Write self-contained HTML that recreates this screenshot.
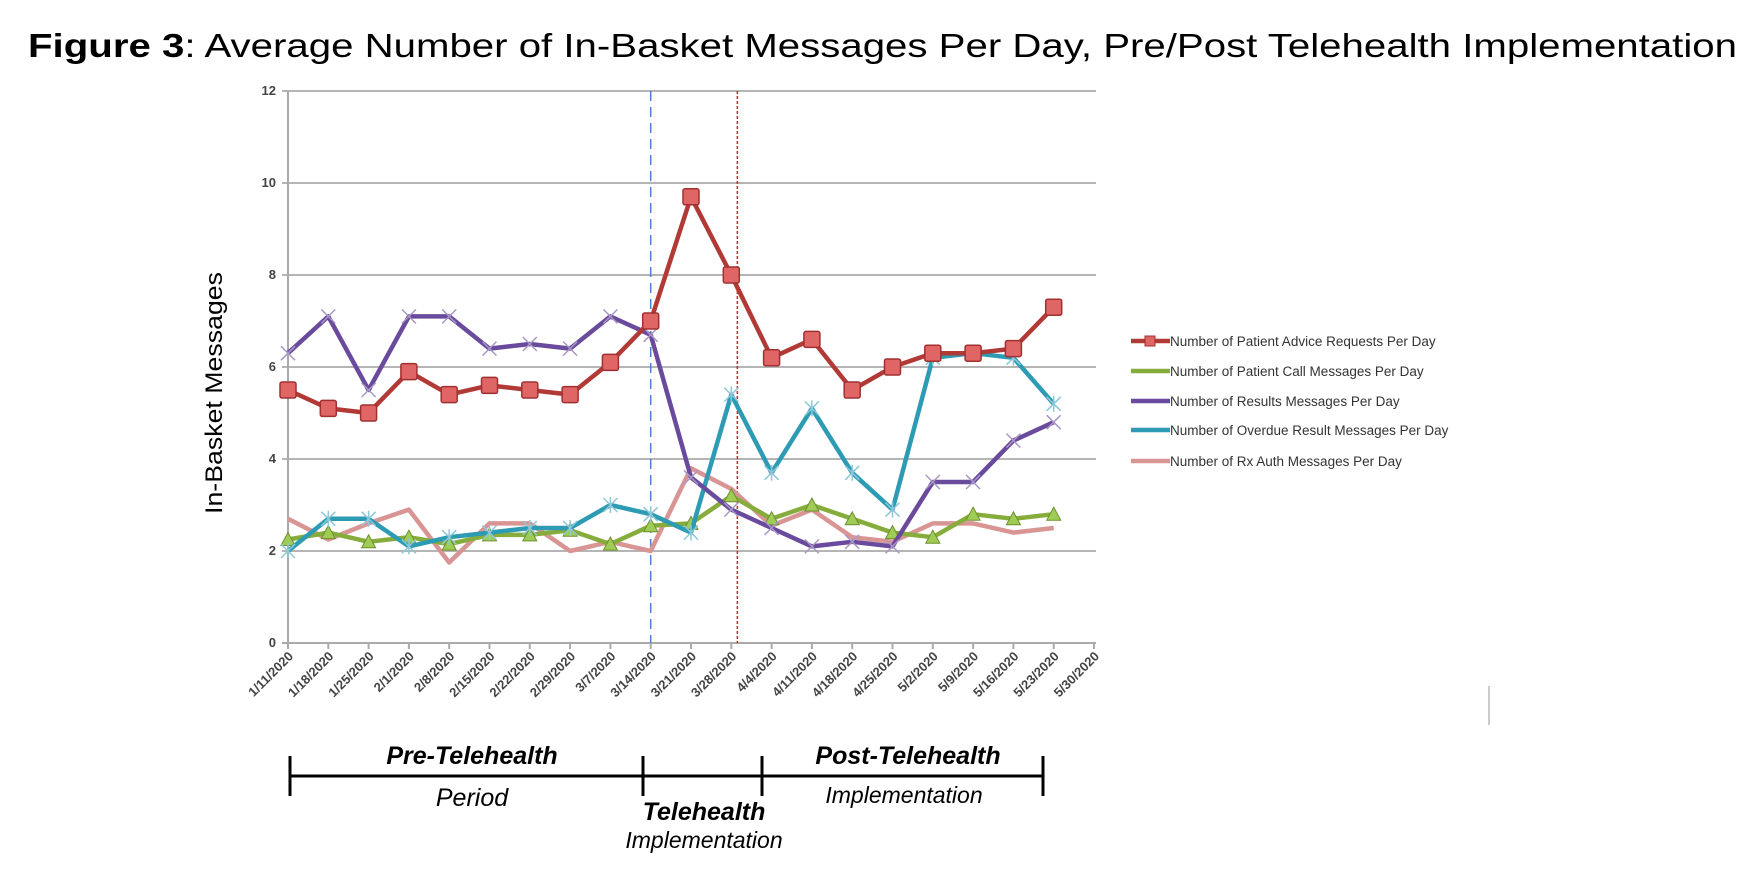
<!DOCTYPE html>
<html><head><meta charset="utf-8"><style>
html,body{margin:0;padding:0;background:#fff;}
svg{display:block;}
</style></head><body>
<svg id="chart" width="1763" height="874" xmlns="http://www.w3.org/2000/svg" font-family="Liberation Sans, sans-serif">
<text x="28" y="57" font-size="33" textLength="1709" lengthAdjust="spacingAndGlyphs"><tspan font-weight="bold">Figure 3</tspan>: Average Number of In-Basket Messages Per Day, Pre/Post Telehealth Implementation</text>
<text transform="translate(222,393) rotate(-90)" text-anchor="middle" font-size="24" textLength="242" lengthAdjust="spacingAndGlyphs">In-Basket Messages</text>
<g id="grid"></g>
<g id="series"></g>
<g id="legend"></g>
<g stroke="#000" stroke-width="3">
<line x1="290" y1="776" x2="1043" y2="776"/>
<line x1="290" y1="756" x2="290" y2="796"/>
<line x1="643" y1="756" x2="643" y2="796"/>
<line x1="762" y1="756" x2="762" y2="796"/>
<line x1="1043" y1="756" x2="1043" y2="796"/>
</g>
<g font-style="italic" font-size="25" text-anchor="middle">
<text x="472" y="764" font-weight="bold">Pre-Telehealth</text>
<text x="472" y="806">Period</text>
<text x="704" y="820" font-weight="bold">Telehealth</text>
<text x="704" y="848" font-size="23">Implementation</text>
<text x="908" y="764" font-weight="bold">Post-Telehealth</text>
<text x="904" y="803" font-size="23">Implementation</text>
</g>
<line x1="1489" y1="686" x2="1489" y2="725" stroke="#ccc" stroke-width="2"/>
</svg>
<script>
const categories = ["1/11/2020","1/18/2020","1/25/2020","2/1/2020","2/8/2020","2/15/2020","2/22/2020","2/29/2020","3/7/2020","3/14/2020","3/21/2020","3/28/2020","4/4/2020","4/11/2020","4/18/2020","4/25/2020","5/2/2020","5/9/2020","5/16/2020","5/23/2020","5/30/2020"];
const yTicks = [0,2,4,6,8,10,12];
const adviceValues = [5.5,5.1,5.0,5.9,5.4,5.6,5.5,5.4,6.1,7.0,9.7,8.0,6.2,6.6,5.5,6.0,6.3,6.3,6.4,7.3];
const callValues = [2.25,2.4,2.2,2.3,2.15,2.35,2.35,2.45,2.15,2.55,2.6,3.2,2.7,3.0,2.7,2.4,2.3,2.8,2.7,2.8];
const resultsValues = [6.3,7.1,5.5,7.1,7.1,6.4,6.5,6.4,7.1,6.7,3.6,2.9,2.5,2.1,2.2,2.1,3.5,3.5,4.4,4.8];
const overdueValues = [2.0,2.7,2.7,2.1,2.3,2.4,2.5,2.5,3.0,2.8,2.4,5.4,3.7,5.1,3.7,2.9,6.2,6.3,6.2,5.2];
const rxValues = [2.7,2.25,2.6,2.9,1.75,2.6,2.6,2.0,2.2,2.0,3.8,3.35,2.55,2.9,2.3,2.2,2.6,2.6,2.4,2.5];
const seriesNames = ["Number of Patient Advice Requests Per Day","Number of Patient Call Messages Per Day","Number of Results Messages Per Day","Number of Overdue Result Messages Per Day","Number of Rx Auth Messages Per Day"];
const telehealthStartIndex = 9;
const implementationEndIndex = 11.15;

const NS="http://www.w3.org/2000/svg";
const X0=288, STEP=40.3, Y0=643, YU=46;
const xs=i=>X0+i*STEP, ys=v=>Y0-v*YU;
function mk(tag,attrs,parent){const e=document.createElementNS(NS,tag);for(const k in attrs)e.setAttribute(k,attrs[k]);parent.appendChild(e);return e;}
const grid=document.getElementById('grid');
yTicks.forEach(t=>{
  const l=mk('line',{x1:xs(0)-6,x2:1096,y1:ys(t),y2:ys(t),stroke:t===0?'#aaa':'#b5b5b5','stroke-width':2},grid);
  
  
  const tx=mk('text',{x:xs(0)-12,y:ys(t)+4,'text-anchor':'end','font-size':13,'font-weight':'bold',fill:'#444'},grid);
  tx.textContent=t;
  
  
});
const ax=mk('line',{x1:xs(0),x2:xs(0),y1:ys(12),y2:ys(0),stroke:'#aaa','stroke-width':2},grid);


categories.forEach((c,i)=>{
  mk('line',{x1:xs(i),x2:xs(i),y1:Y0,y2:Y0+6,stroke:'#aaa','stroke-width':2},grid);
  const tx=mk('text',{transform:`translate(${xs(i)+6},${Y0+14}) rotate(-45)`,'text-anchor':'end','font-size':13,'font-weight':'bold',fill:'#444'},grid);
  tx.textContent=c;
  
  
});
const vb=mk('line',{x1:xs(telehealthStartIndex),x2:xs(telehealthStartIndex),y1:ys(12),y2:Y0,stroke:'#4a7fd6','stroke-width':1.5,'stroke-dasharray':'10,6'},grid);


const vr=mk('line',{x1:xs(implementationEndIndex),x2:xs(implementationEndIndex),y1:ys(12),y2:Y0,stroke:'#e02020','stroke-width':1.5,'stroke-dasharray':'3,2'},grid);



const colors=['#b23a36','#86ad3c','#6a4a9c','#2e9bb4','#d99594'];
const markers=['square','triangle','x','star','none'];
const data=[adviceValues,callValues,resultsValues,overdueValues,rxValues];
const sg=document.getElementById('series');
const order=[4,1,3,2,0];
function marker(type,x,y,col,g){
  if(type==='square'){return mk('rect',{x:x-8,y:y-8,width:16,height:16,fill:'#e06666',stroke:'#a03030','stroke-width':1.5,rx:2},g);}
  if(type==='triangle'){return mk('polygon',{points:`${x},${y-7} ${x-7},${y+6} ${x+7},${y+6}`,fill:'#9fcc55',stroke:'#6d8f2d','stroke-width':1},g);}
  if(type==='x'){return mk('path',{d:`M${x-7},${y-7}L${x+7},${y+7}M${x-7},${y+7}L${x+7},${y-7}`,stroke:'#a898c8','stroke-width':1.5},g);}
  if(type==='star'){return mk('path',{d:`M${x-7},${y-7}L${x+7},${y+7}M${x-7},${y+7}L${x+7},${y-7}M${x},${y-8}L${x},${y+8}`,stroke:'#8cc8d8','stroke-width':1.5},g);}
  return null;
}
order.forEach(si=>{
  const g=mk('g',{},sg);
  
  
  const pts=data[si].map((v,i)=>xs(i)+','+ys(v)).join(' ');
  const pl=mk('polyline',{points:pts,fill:'none',stroke:colors[si],'stroke-width':4.5,'stroke-linejoin':'round'},g);
  
  
  data[si].forEach((v,i)=>{
    const m=marker(markers[si],xs(i),ys(v),colors[si],g);
    if(m){
      
      
    }
  });
});
const lg=document.getElementById('legend');
const ly=[341,371,401,430,461];
seriesNames.forEach((n,i)=>{
  const g=mk('g',{},lg);
  
  
  mk('line',{x1:1131,x2:1170,y1:ly[i],y2:ly[i],stroke:colors[i],'stroke-width':4.5},g);
  if(i===0)mk('rect',{x:1145,y:ly[i]-5,width:10,height:10,fill:'#e06666',stroke:'#a03030'},g);
  const t=mk('text',{x:1170,y:ly[i]+5,'font-size':13.5,fill:'#333'},g);
  t.textContent=n;
});
</script>
</body></html>
